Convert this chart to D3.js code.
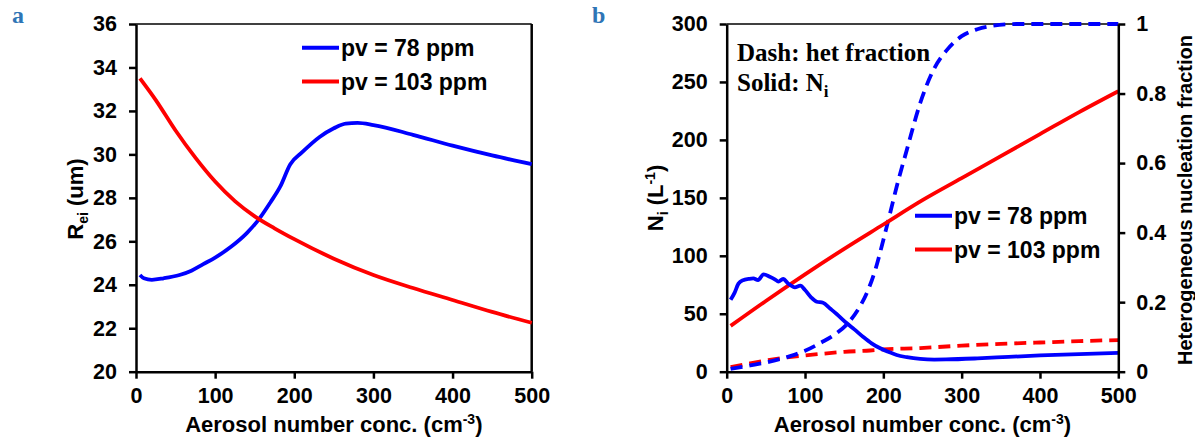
<!DOCTYPE html>
<html>
<head>
<meta charset="utf-8">
<script src="https://cdn.jsdelivr.net/npm/d3@7"></script>
<style>
  body { margin: 0; background: #fff; }
  svg { display: block; font-family: "Liberation Sans", Arial, sans-serif; font-weight: bold; }
  .axis path, .axis line { stroke: #000; stroke-width: 2.5; }
  .axis text { font-size: 21.5px; font-weight: bold; fill: #000; font-family: "Liberation Sans", Arial, sans-serif; }
</style>
</head>
<body>
<div id="chart"></div>
<script>
// panel a: effective radius Rei (um) vs aerosol number conc.
const reiX78  = [5, 10, 20, 35, 55, 70, 85, 100, 120, 140, 155, 170, 182, 195, 210, 232, 250, 265, 280, 300, 350, 400, 450, 500];
const rei78   = [24.45, 24.3, 24.23, 24.3, 24.45, 24.65, 24.95, 25.25, 25.75, 26.38, 27.0, 27.8, 28.5, 29.55, 30.1, 30.8, 31.2, 31.42, 31.45, 31.35, 30.9, 30.4, 29.95, 29.55];
const reiX103 = [5, 25, 50, 75, 100, 125, 150, 175, 200, 250, 300, 350, 400, 450, 500];
const rei103  = [33.5, 32.5, 31.1, 29.85, 28.75, 27.85, 27.15, 26.6, 26.1, 25.2, 24.45, 23.85, 23.3, 22.75, 22.25];

// panel b: Ni (L-1), solid lines
const niX78 = [5, 10, 15, 21, 28, 34, 40, 47, 55, 62, 66, 72, 79, 87, 94, 100, 108, 115, 123, 132, 140, 153, 163, 174, 185, 196, 207, 217, 230, 247, 265, 280, 320, 360, 400, 450, 500];
const ni78  = [62, 68, 76, 79, 80, 80.5, 79, 84, 82, 79.5, 77.7, 80, 75.7, 72.8, 74.2, 70.5, 64, 60.4, 59.5, 54.5, 50, 42, 36.5, 30.2, 24.5, 20.2, 17, 14.4, 12.5, 11, 10.5, 10.6, 11.5, 12.8, 14, 15.2, 16.3];
const niX103 = [5, 50, 100, 150, 200, 250, 300, 350, 400, 450, 500];
const ni103  = [39.5, 61, 84, 106, 127, 148, 167, 186, 205, 224, 242];

// panel b: heterogeneous nucleation fraction, dashed lines (right axis)
const fracX78 = [5, 30, 55, 80, 100, 120, 140, 155, 170, 180, 190, 200, 208, 217, 230, 247, 264, 281, 300, 320, 340, 370, 400, 500];
const frac78  = [0.008, 0.018, 0.029, 0.044, 0.06, 0.083, 0.11, 0.14, 0.187, 0.232, 0.295, 0.379, 0.45, 0.532, 0.638, 0.772, 0.868, 0.925, 0.965, 0.985, 0.995, 1.0, 1.0, 1.0];
const fracX103 = [5, 30, 55, 80, 119, 150, 183, 200, 247, 300, 350, 400, 450, 500];
const frac103  = [0.013, 0.024, 0.034, 0.042, 0.051, 0.057, 0.061, 0.064, 0.068, 0.075, 0.08, 0.084, 0.088, 0.091];

const xTicks = [0, 100, 200, 300, 400, 500];
const reiTicks = [20, 22, 24, 26, 28, 30, 32, 34, 36];
const niTicks = [0, 50, 100, 150, 200, 250, 300];
const fracTicks = [0, 0.2, 0.4, 0.6, 0.8, 1];
const seriesNames = ["pv = 78 ppm", "pv = 103 ppm"];
const seriesColors = ["#0000ff", "#ff0000"];

const W = 1195, H = 442;
const svg = d3.select("#chart").append("svg").attr("width", W).attr("height", H);

const plotTop = 24, plotBottom = 371.7;
const line = (x, y) => d3.line().x(d => x(d[0])).y(d => y(d[1])).curve(d3.curveMonotoneX);
const zip = (a, b) => a.map((v, i) => [v, b[i]]);

function frame(g, x, rightBorder) {
  g.append("line").attr("x1", x.range()[0]).attr("x2", x.range()[1]).attr("y1", plotTop).attr("y2", plotTop)
    .attr("stroke", "#000").attr("stroke-width", 1.5);
  if (rightBorder) {
    g.append("line").attr("x1", x.range()[1]).attr("x2", x.range()[1]).attr("y1", plotTop).attr("y2", plotBottom)
      .attr("stroke", "#000").attr("stroke-width", 2.5);
  }
}

function xAxis(g, x) {
  const ax = g.append("g").attr("class", "axis").attr("transform", `translate(0,${plotBottom})`)
    .call(d3.axisBottom(x).tickValues(xTicks).tickSizeInner(7).tickSizeOuter(0).tickPadding(9));
  ax.selectAll("text").attr("dy", "0.72em");
  const cx = (x.range()[0] + x.range()[1]) / 2;
  const t = g.append("text").attr("x", cx).attr("y", 432).attr("text-anchor", "middle")
    .style("font-size", "22px");
  t.append("tspan").text("Aerosol number conc. (cm");
  t.append("tspan").attr("dy", -8).style("font-size", "14px").text("-3");
  t.append("tspan").attr("dy", 8).text(")");
}

function legend(g, x0, y0) {
  seriesNames.forEach((name, i) => {
    const yy = y0 + i * 33.7;
    g.append("line").attr("x1", x0).attr("x2", x0 + 37).attr("y1", yy).attr("y2", yy)
      .attr("stroke", seriesColors[i]).attr("stroke-width", 4);
    g.append("text").attr("x", x0 + 39).attr("y", yy).attr("dy", "0.36em")
      .style("font-size", "23px").text(name);
  });
}

const serif = "'Liberation Serif', 'Times New Roman', serif";

// ---------- panel a ----------
{
  const g = svg.append("g");
  const x = d3.scaleLinear().domain([0, 500]).range([136, 531.7]);
  const y = d3.scaleLinear().domain([20, 36]).range([plotBottom, plotTop]);

  frame(g, x, true);
  g.append("path").datum(zip(reiX78, rei78)).attr("d", line(x, y))
    .attr("fill", "none").attr("stroke", seriesColors[0]).attr("stroke-width", 3.8);
  g.append("path").datum(zip(reiX103, rei103)).attr("d", line(x, y))
    .attr("fill", "none").attr("stroke", seriesColors[1]).attr("stroke-width", 3.8);

  g.append("g").attr("class", "axis").attr("transform", "translate(136,0)")
    .call(d3.axisLeft(y).tickValues(reiTicks).tickSizeInner(7).tickSizeOuter(0).tickPadding(12));
  xAxis(g, x);

  const t = g.append("text").attr("transform", "translate(83,199) rotate(-90)")
    .attr("text-anchor", "middle").style("font-size", "22px");
  t.append("tspan").text("R");
  t.append("tspan").attr("dy", 5).style("font-size", "14px").text("ei");
  t.append("tspan").attr("dy", -5).text(" (um)");

  legend(g, 302, 47.7);

  g.append("text").attr("x", 12).attr("y", 23)
    .style("font-family", serif).style("font-size", "24px")
    .attr("fill", "#2e75b6").text("a");
}

// ---------- panel b ----------
{
  const g = svg.append("g");
  const x = d3.scaleLinear().domain([0, 500]).range([726.7, 1118.3]);
  const y = d3.scaleLinear().domain([0, 300]).range([plotBottom, plotTop]);
  const y2 = d3.scaleLinear().domain([0, 1]).range([plotBottom, plotTop]);

  frame(g, x, false);

  const dash = "12,7";
  g.append("path").datum(zip(fracX103, frac103)).attr("d", line(x, y2))
    .attr("fill", "none").attr("stroke", seriesColors[1]).attr("stroke-width", 3.8).attr("stroke-dasharray", dash);
  g.append("path").datum(zip(fracX78, frac78)).attr("d", line(x, y2))
    .attr("fill", "none").attr("stroke", seriesColors[0]).attr("stroke-width", 3.8).attr("stroke-dasharray", dash);
  g.append("path").datum(zip(niX103, ni103)).attr("d", line(x, y))
    .attr("fill", "none").attr("stroke", seriesColors[1]).attr("stroke-width", 3.8);
  g.append("path").datum(zip(niX78, ni78)).attr("d", line(x, y))
    .attr("fill", "none").attr("stroke", seriesColors[0]).attr("stroke-width", 3.8);

  g.append("g").attr("class", "axis").attr("transform", "translate(726.7,0)")
    .call(d3.axisLeft(y).tickValues(niTicks).tickSizeInner(7).tickSizeOuter(0).tickPadding(12));
  g.append("g").attr("class", "axis").attr("transform", "translate(1118.3,0)")
    .call(d3.axisRight(y2).tickValues(fracTicks).tickFormat(d3.format("~g")).tickSizeInner(7).tickSizeOuter(0).tickPadding(11));
  xAxis(g, x);

  const t = g.append("text").attr("transform", "translate(663,198) rotate(-90)")
    .attr("text-anchor", "middle").style("font-size", "22px");
  t.append("tspan").text("N");
  t.append("tspan").attr("dy", 5).style("font-size", "14px").text("i");
  t.append("tspan").attr("dy", -5).text(" (L");
  t.append("tspan").attr("dy", -8).style("font-size", "14px").text("-1");
  t.append("tspan").attr("dy", 8).text(")");

  g.append("text").attr("transform", "translate(1192,200) rotate(-90)")
    .attr("text-anchor", "middle").style("font-size", "20px").text("Heterogeneous nucleation fraction");

  g.append("text").attr("x", 737).attr("y", 60.5).style("font-family", serif).style("font-size", "25px")
    .text("Dash: het fraction");
  const s = g.append("text").attr("x", 737).attr("y", 90.7).style("font-family", serif).style("font-size", "25px");
  s.append("tspan").text("Solid: N");
  s.append("tspan").attr("dy", 6).style("font-size", "17px").text("i");

  legend(g, 915, 215.7);

  g.append("text").attr("x", 592).attr("y", 23)
    .style("font-family", serif).style("font-size", "24px")
    .attr("fill", "#2e75b6").text("b");
}
</script>
</body>
</html>
